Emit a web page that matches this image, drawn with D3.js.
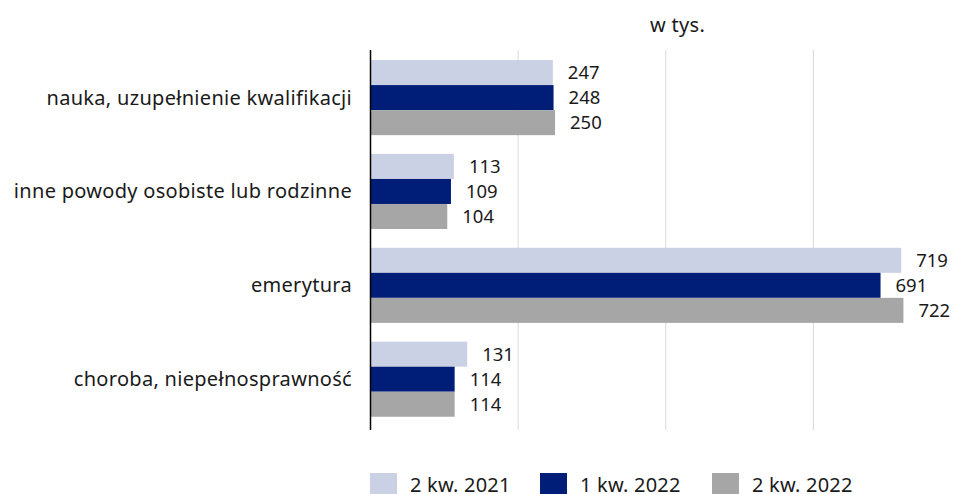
<!DOCTYPE html>
<html><head><meta charset="utf-8">
<script src="https://cdn.jsdelivr.net/npm/d3@7"></script>
<style>body{margin:0;background:#fff}svg{display:block}text{font-family:"Noto Sans",sans-serif;fill:#1a1a1a}</style>
</head><body>
<svg id="c" width="960" height="494"></svg>
<script>
const categories = ["nauka, uzupełnienie kwalifikacji","inne powody osobiste lub rodzinne","emerytura","choroba, niepełnosprawność"];
const seriesNames = ["2 kw. 2021","1 kw. 2022","2 kw. 2022"];
const s2021q2 = [247,113,719,131];
const s2022q1 = [248,109,691,114];
const s2022q2 = [250,104,722,114];
const gridTicks = [200,400,600];
const colors = ["#cbd1e5","#001e78","#a6a6a6"];
const unitLabel = "w tys.";

const series = [s2021q2, s2022q1, s2022q2];
const svg = d3.select("#c");
const x = d3.scaleLinear().domain([0,800]).range([370.5,961]);
const y = d3.scaleBand().domain(categories).range([50,426.8]).paddingInner(0.2).paddingOuter(0.107);
const yi = d3.scaleBand().domain(d3.range(series.length)).range([0,y.bandwidth()]);

svg.append("g").selectAll("line").data(gridTicks).join("line")
  .attr("x1",d=>x(d)).attr("x2",d=>x(d)).attr("y1",50).attr("y2",430)
  .attr("stroke","#d9d9d9").attr("stroke-width",1);

const g = svg.append("g").selectAll("g").data(categories).join("g")
  .attr("transform",d=>`translate(0,${y(d)})`);
g.selectAll("rect").data((c,i)=>series.map((s,k)=>({k,v:s[i]}))).join("rect")
  .attr("x",x(0)).attr("y",d=>yi(d.k)).attr("width",d=>x(d.v)-x(0)).attr("height",yi.bandwidth())
  .attr("fill",d=>colors[d.k]);
g.selectAll("text").data((c,i)=>series.map((s,k)=>({k,v:s[i]}))).join("text")
  .attr("x",d=>x(d.v)+15).attr("y",d=>yi(d.k)+yi.bandwidth()/2).attr("dy","0.35em")
  .attr("font-size",18.5).text(d=>d.v);

svg.append("line").attr("x1",x(0)).attr("x2",x(0)).attr("y1",50).attr("y2",430)
  .attr("stroke","#000").attr("stroke-width",1.5);

svg.append("g").selectAll("text").data(categories).join("text")
  .attr("x",352).attr("y",d=>y(d)+y.bandwidth()/2).attr("dy","0.35em")
  .attr("text-anchor","end").attr("font-size",20).attr("letter-spacing",0.3).text(d=>d);

svg.append("text").attr("x",650).attr("y",25).attr("dy","0.35em").attr("font-size",20).attr("letter-spacing",0.3).text(unitLabel);

const legX = [370,540,712];
const lg = svg.append("g").selectAll("g").data(seriesNames).join("g")
  .attr("transform",(d,i)=>`translate(${legX[i]},473)`);
lg.append("rect").attr("width",27).attr("height",22).attr("fill",(d,i)=>colors[i]);
lg.append("text").attr("x",40).attr("y",19).attr("font-size",20).attr("letter-spacing",0.2).text(d=>d);
</script>
</body></html>
